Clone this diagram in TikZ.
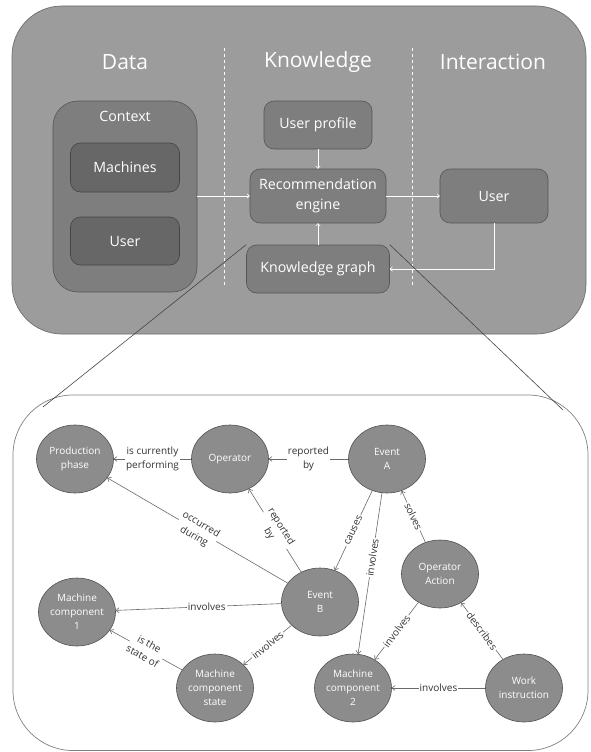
\documentclass[tikz,border=0pt]{standalone}
\usepackage{fontspec}
\setmainfont{Open Sans}
\usetikzlibrary{shapes.geometric,arrows.meta}
\definecolor{bigbg}{HTML}{9C9C9C}
\definecolor{bigbd}{HTML}{6E6E6E}
\definecolor{midbg}{HTML}{7E7E7E}
\definecolor{midbd}{HTML}{555555}
\definecolor{darkbg}{HTML}{676767}
\definecolor{darkbd}{HTML}{444444}
\definecolor{ellbg}{HTML}{8C8C8C}
\definecolor{ellbd}{HTML}{505050}
\definecolor{edgec}{HTML}{6A6A6A}
\definecolor{labc}{HTML}{333333}
\begin{document}
\begin{tikzpicture}[x=1pt,y=-1pt,
  title/.style={text=white,font=\fontsize{21}{25}\selectfont},
  boxtext/.style={text=white,font=\fontsize{14.2}{20}\selectfont,align=center},
  midbox/.style={boxtext,draw=midbd,fill=midbg,rounded corners=10pt,inner sep=0pt,line width=0.6pt},
  darkbox/.style={boxtext,draw=darkbd,fill=darkbg,rounded corners=10pt,inner sep=0pt,line width=0.6pt},
  warrow/.style={draw=white,line width=0.6pt,-{To[length=3pt,width=5pt]}},
  ell/.style={ellipse,draw=ellbd,fill=ellbg,line width=0.6pt,minimum width=77pt,minimum height=68pt,inner sep=0pt,text=white,align=center,font=\fontsize{10}{14}\selectfont},
  rel/.style={draw=edgec,line width=0.6pt,-{To[length=3.5pt,width=5.5pt]}},
  lab/.style={fill=white,inner sep=1pt,text=labc,align=center,font=\fontsize{10}{14}\selectfont}]
\useasboundingbox (0,0) rectangle (591,752);
% top panel
\draw[fill=bigbg,draw=bigbd,line width=0.7pt,rounded corners=50pt] (12,6) rectangle (586,334);
\node[title] (tdata) at (125,62) {Data};
\node[title] (tknow) at (318,62) {Knowledge};
\node[title] (tint) at (493,62) {Interaction};
\draw[white,dashed,line width=0.6pt] (224,48) -- (224,288);
\draw[white,dashed,line width=0.6pt] (412,48) -- (412,288);
\node[midbox,rounded corners=25pt,minimum width=144pt,minimum height=191pt] (ctx) at (125,196.5) {};
\node[boxtext] (ctxl) at (125,116) {Context};
\node[darkbox,minimum width=109pt,minimum height=49pt] (mach) at (125,167.5) {Machines};
\node[darkbox,minimum width=109pt,minimum height=48pt] (userl) at (125,241) {User};
\node[midbox,minimum width=108pt,minimum height=48pt] (up) at (318,125) {User profile};
\node[midbox,minimum width=136pt,minimum height=54pt] (rec) at (318,196) {Recommendation\\engine};
\node[midbox,minimum width=143pt,minimum height=48pt] (kg) at (318,269) {Knowledge graph};
\node[midbox,minimum width=108pt,minimum height=54pt] (user2) at (494,196) {User};
\draw[warrow] (ctx.east |- rec.west) -- (rec.west);
\draw[warrow] (rec.east) -- (user2.west);
\draw[warrow] (up.south) -- (rec.north);
\draw[warrow] (kg.north) -- (rec.south);
\draw[warrow] (user2.south) |- (kg.east);
% bottom panel
\draw[draw=gray,line width=0.7pt,rounded corners=60pt] (13,395) rectangle (588,750.5);
\coordinate (cl) at (43,407);
\coordinate (cr) at (563,410);
\draw[draw=darkbd,line width=0.6pt] (kg.north west) -- (cl);
\draw[draw=darkbd,line width=0.6pt] (kg.north east) -- (cr);
% graph
\node[ell] (pp) at (75,459) {Production\\phase};
\node[ell] (op) at (230,459) {Operator};
\node[ell] (ea) at (387,459) {Event\\A};
\node[ell] (eb) at (320,602) {Event\\B};
\node[ell] (oa) at (440,574) {Operator\\Action};
\node[ell] (mc1) at (77,612) {Machine\\component\\1};
\node[ell] (mcs) at (215,688) {Machine\\component\\state};
\node[ell] (mc2) at (353,688) {Machine\\component\\2};
\node[ell] (wi) at (524,688) {Work\\instruction};
\draw[rel] (op) -- node[lab] {is currently\\performing} (pp);
\draw[rel] (ea) -- node[lab] {reported\\by} (op);
\draw[rel] (eb) -- node[lab,sloped] {reported\\by} (op);
\draw[rel] (eb) -- node[lab,sloped] {occurred\\during} (pp);
\draw[rel] (ea) -- node[lab,sloped] {causes} (eb);
\draw[rel] (ea) -- node[lab,sloped,pos=0.4] {involves} (mc2);
\draw[rel] (oa) -- node[lab,sloped] {solves} (ea);
\draw[rel] (eb) -- node[lab,pos=0.45] {involves} (mc1);
\draw[rel] (eb) -- node[lab,sloped] {involves} (mcs);
\draw[rel] (mcs) -- node[lab,sloped] {is the\\state of} (mc1);
\draw[rel] (oa) -- node[lab,sloped] {involves} (mc2);
\draw[rel] (wi) -- node[lab,sloped] {describes} (oa);
\draw[rel] (wi) -- node[lab] {involves} (mc2);
\end{tikzpicture}
\end{document}
